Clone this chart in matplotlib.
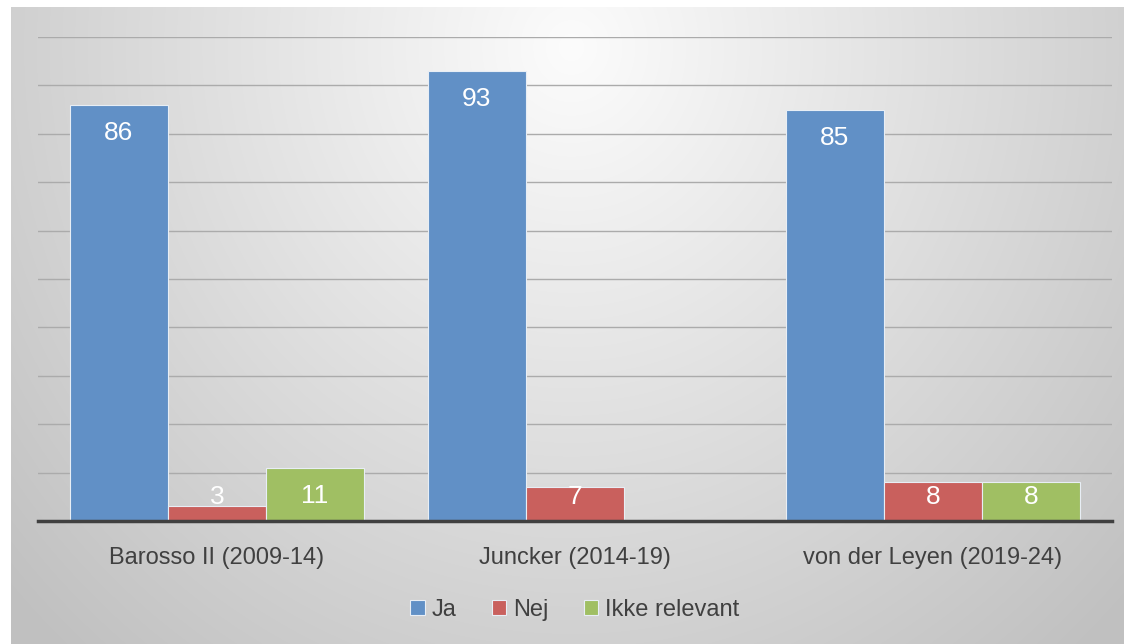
import matplotlib
matplotlib.use("Agg")
import matplotlib.pyplot as plt
import numpy as np

categories = ["Barosso II (2009-14)", "Juncker (2014-19)", "von der Leyen (2019-24)"]
series = ["Ja", "Nej", "Ikke relevant"]
ja = [86, 93, 85]
nej = [3, 7, 8]
ikke = [11, None, 8]
colors = ["#6190C6", "#C9605D", "#A0BF63"]

plt.rcParams['font.family'] = ['Liberation Sans', 'DejaVu Sans']

W, H = 1124, 644
fig = plt.figure(figsize=(W / 100, H / 100), dpi=100)
fig.patch.set_facecolor("white")

# grey radial background, lighter near the top middle
bg = fig.add_axes([11 / W, 0, 1 - 11 / W, 1 - 7 / H])
yy, xx = np.mgrid[0:637, 0:1113]
r = np.hypot((xx - 560) / 560.0, (yy - 40) / 600.0)
g = np.clip(252 - 44 * r, 192, 252) / 255.0
bg.imshow(np.dstack([g, g, g]), aspect="auto", interpolation="bilinear")
bg.set_axis_off()

ax = fig.add_axes([38 / W, 1 - 521 / H, (1112 - 38) / W, (521 - 37) / H])
ax.patch.set_alpha(0)
ax.set_xlim(-0.5, 2.5)
ax.set_ylim(0, 100)

x = np.arange(len(categories))
bw = 0.274
for i, (vals, c, name) in enumerate(zip([ja, nej, ikke], colors, series)):
    pos = x + (i - 1) * bw
    v = np.array([np.nan if a is None else a for a in vals], dtype=float)
    ax.bar(pos, np.nan_to_num(v), bw, color=c, edgecolor="#E8EEF5", linewidth=0.8,
           label=name, zorder=3)
    for p, val in zip(pos, v):
        if np.isnan(val):
            continue
        ty = max(val - 5.9, 4.9)
        ax.text(p, ty, f"{int(val)}", ha="center", va="center", color="white",
                fontsize=19, zorder=4)

ax.set_yticks(np.arange(10, 101, 10))
ax.yaxis.grid(True, color="#ABABAB", linewidth=1.0, zorder=0)
ax.tick_params(axis="y", left=False, labelleft=False)
ax.tick_params(axis="x", bottom=False, pad=15)
ax.set_xticks(x)
ax.set_xticklabels(categories, fontsize=17, color="#404040")
for s in ["top", "right", "left"]:
    ax.spines[s].set_visible(False)
ax.spines["bottom"].set_color("#404040")
ax.spines["bottom"].set_linewidth(2.5)
ax.spines["bottom"].set_zorder(5)

leg = ax.legend(loc="center", bbox_to_anchor=(0.5, (521 - 610) / (521 - 37)), ncol=3,
                frameon=False, fontsize=17, handlelength=0.6, handleheight=0.6,
                handletextpad=0.3, columnspacing=1.5, labelcolor="#404040")

fig.savefig("out.png", dpi=100)
